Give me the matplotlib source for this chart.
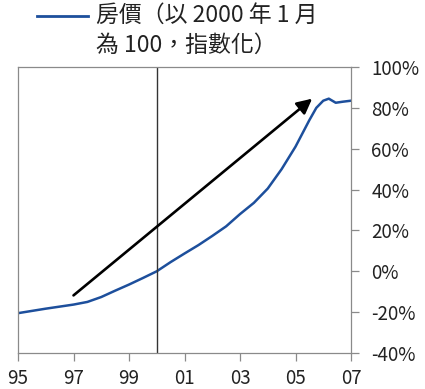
import matplotlib
matplotlib.use("Agg")
import matplotlib.pyplot as plt
from matplotlib.lines import Line2D
from matplotlib.ticker import FuncFormatter

plt.rcParams['font.family'] = ['Noto Sans CJK TC', 'DejaVu Sans']

# house price index, % vs Jan 2000
years = [1995, 1995.5, 1996, 1996.5, 1997, 1997.5, 1998, 1998.5, 1999, 1999.5,
         2000, 2000.5, 2001, 2001.5, 2002, 2002.5, 2003, 2003.5, 2004, 2004.5,
         2005, 2005.5, 2005.75, 2006, 2006.2, 2006.45, 2006.7, 2007]
price = [-20.5, -19.4, -18.3, -17.3, -16.3, -15.0, -12.6, -9.5, -6.5, -3.3,
         0.0, 4.5, 8.7, 12.8, 17.3, 22.0, 28.0, 33.5, 40.5, 50.0,
         61.0, 74.0, 80.0, 83.5, 84.5, 82.5, 83.0, 83.5]

tick_years = [1995, 1997, 1999, 2001, 2003, 2005, 2007]
tick_labels = ['95', '97', '99', '01', '03', '05', '07']
y_ticks = [-40, -20, 0, 20, 40, 60, 80, 100]

marker_year = 2000
arrow_start = (1997.0, -11.8)
arrow_end = (2005.6, 84.5)
legend_label = '房價（以 2000 年 1 月\n為 100，指數化）'

blue = '#1d4f9c'
grey = '#8a8a8a'

fig = plt.figure(figsize=(4.25, 3.89), dpi=100)
ax = fig.add_axes([18 / 425, 1 - 353 / 389, 333 / 425, 286 / 389])

ax.plot(years, price, color=blue, lw=1.8, solid_capstyle='round')
ax.axvline(marker_year, color='#333333', lw=1.0)
ax.annotate('', xy=arrow_end, xytext=arrow_start,
            arrowprops=dict(arrowstyle='-|>,head_length=0.9,head_width=0.45',
                            color='black', lw=1.9, shrinkA=0, shrinkB=0))

ax.set_xlim(1995, 2007)
ax.set_ylim(-40, 100)
ax.set_xticks(tick_years)
ax.set_xticklabels(tick_labels)
ax.set_yticks(y_ticks)
ax.yaxis.set_major_formatter(FuncFormatter(lambda v, p: f'{v:.0f}%'))
ax.yaxis.tick_right()

for s in ax.spines.values():
    s.set_color(grey)
    s.set_linewidth(0.9)
ax.tick_params(axis='both', colors=grey, labelcolor='#222222', labelsize=13.5,
               length=5.5, width=0.9, direction='out')
ax.tick_params(axis='y', pad=9)
ax.tick_params(axis='x', pad=5)

# legend drawn by hand, handle sits on the first text line
fig.add_artist(Line2D([37 / 425, 88 / 425], [1 - 16 / 389, 1 - 16 / 389],
                      color=blue, lw=2.0))
fig.text(96 / 425, 1 - 4 / 389, legend_label, fontsize=16.5, va='top',
         ha='left', color='#222222', linespacing=1.4)

fig.savefig('out.png', dpi=100)
